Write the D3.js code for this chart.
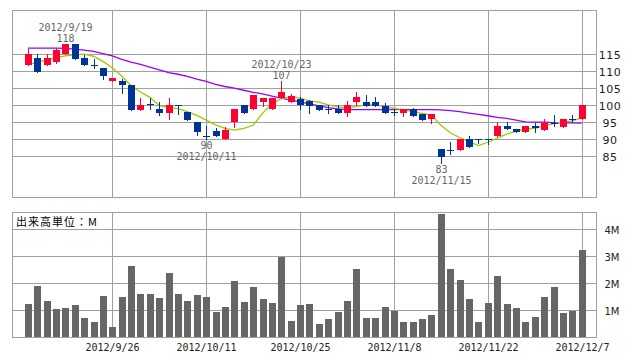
<!DOCTYPE html>
<html><head><meta charset="utf-8">
<script src="https://cdn.jsdelivr.net/npm/d3@7"></script>
<style>body{margin:0;background:#fff}svg{display:block}</style>
</head><body><svg id="c" width="638" height="362"></svg>
<script>
const dates=["9/12","9/13","9/14","9/18","9/19","9/20","9/21","9/24","9/25","9/26","9/27","9/28","10/1","10/2","10/3","10/4","10/5","10/9","10/10","10/11","10/12","10/15","10/16","10/17","10/18","10/19","10/22","10/23","10/24","10/25","10/26","10/29","10/30","10/31","11/1","11/2","11/5","11/6","11/7","11/8","11/9","11/12","11/13","11/14","11/15","11/16","11/19","11/20","11/21","11/22","11/26","11/27","11/28","11/29","11/30","12/3","12/4","12/5","12/6","12/7"];
const open=[111.7,113.7,111.6,112.7,114.9,118.0,113.7,111.6,110.8,106.9,107.1,105.9,98.6,100.2,98.7,97.7,99.9,98.0,95.1,90.8,92.2,90.0,94.9,100.0,98.7,100.7,98.7,102.0,100.8,101.8,101.0,100.0,98.7,98.7,97.7,100.7,100.8,100.8,99.7,97.8,97.6,98.8,97.3,95.8,87.1,86.6,86.8,89.9,89.9,89.9,90.7,93.8,92.9,91.9,93.8,92.6,94.8,93.6,95.8,95.8];
const high=[116.3,115.0,115.0,116.7,118.0,118.0,114.7,113.4,110.8,107.9,107.7,105.9,102.0,102.0,100.7,102.0,99.9,98.0,95.1,93.8,93.3,93.6,98.8,100.0,102.9,102.0,102.0,107.0,103.2,102.2,101.5,100.0,100.0,100.0,101.0,103.7,102.9,102.2,100.5,98.7,98.8,99.0,97.3,97.3,87.1,89.2,89.9,90.9,89.9,89.9,94.9,94.9,92.9,93.8,94.6,95.8,97.1,95.9,97.1,100.0];
const low=[111.6,109.8,111.6,112.3,114.9,113.5,111.6,110.8,107.6,106.9,103.6,98.6,98.6,98.7,97.0,95.8,97.4,95.6,91.2,90.0,90.7,90.0,93.6,97.7,98.7,99.7,98.7,102.0,100.8,98.7,97.7,98.5,97.6,97.7,96.8,100.0,99.8,99.8,97.7,97.0,96.8,96.8,95.6,94.6,83.0,85.6,86.8,87.7,88.7,88.4,90.7,92.8,92.0,91.9,91.9,92.6,93.8,93.6,94.9,95.8];
const close=[115.0,109.8,113.7,116.0,118.0,113.5,111.6,111.6,108.5,107.9,105.7,98.6,99.9,100.2,97.7,100.0,99.9,95.6,91.9,90.8,90.7,92.6,98.8,97.7,102.9,102.0,102.0,103.7,102.6,100.0,99.8,98.5,98.7,97.7,100.0,102.2,99.8,99.8,97.7,97.8,98.8,96.8,95.6,97.3,84.8,86.6,89.9,87.7,89.9,89.9,93.9,92.8,92.0,93.8,93.1,94.8,94.8,95.9,95.8,100.0];
const maShort=[111.8,112.5,113.2,113.9,114.4,114.7,114.9,114.3,112.8,110.9,108.5,105.6,103.8,102.2,99.8,99.3,98.9,98.0,96.9,95.5,94.1,93.1,92.6,93.1,94.0,97.5,100.3,101.8,102.5,102.0,101.2,100.8,100.0,99.4,99.2,99.5,100.0,100.0,99.5,99.0,98.5,98.0,97.5,97.0,94.0,91.8,90.4,89.2,88.0,89.0,90.2,91.4,92.2,92.9,93.1,93.8,94.5,94.9,95.3,96.2];
const maLong=[116.7,116.7,116.7,116.7,116.6,116.4,116.1,115.7,115.1,114.4,113.4,112.6,111.9,111.1,110.3,109.5,109.0,108.4,107.6,106.9,106.0,105.4,104.9,104.3,103.7,103.2,102.6,102.0,101.4,100.9,100.3,99.7,99.2,98.8,98.6,98.6,98.6,98.6,98.6,98.6,98.6,98.6,98.6,98.6,98.5,98.3,98.0,97.6,97.2,96.8,96.3,96.0,95.5,95.0,94.9,94.9,94.8,94.7,94.7,94.6];
const volume=[1.22,1.89,1.33,1.04,1.07,1.19,0.70,0.56,1.52,0.37,1.48,2.63,1.59,1.59,1.44,2.37,1.59,1.33,1.56,1.48,0.93,1.11,2.07,1.30,1.85,1.41,1.26,2.96,0.59,1.19,1.22,0.48,0.67,0.93,1.33,2.52,0.70,0.70,1.11,0.96,0.56,0.56,0.67,0.81,4.56,2.52,2.11,1.41,0.56,1.26,2.26,1.22,1.07,0.56,0.74,1.48,1.85,0.89,0.96,3.22];
const dateTicks=["9/26","10/11","10/25","11/8","11/22","12/7"];
const priceTicks=[85,90,95,100,105,110,115];
const volTicks=[1,2,3,4];
const notes=[{date:"9/19",kind:"high",label:"118"},{date:"10/11",kind:"low",label:"90"},{date:"10/23",kind:"high",label:"107"},{date:"11/15",kind:"low",label:"83"}];
const year="2012";

const svg=d3.select("#c");
const L=12,R=596,PT=10,PB=197,VT=212,VB=337;
const x=d3.scaleLinear().domain([-1.683,60.523]).range([L,R]);
const y=d3.scaleLinear().domain([72.9,127.9]).range([PB,PT]);
const yv=d3.scaleLinear().domain([0,4.63]).range([VB,VT]);
const px=i=>Math.round(x(i));
const GRID="#a0a0a0",RED="#ff0033",BLUE="#003399";
const idx=d=>dates.indexOf(d);

// grids
const g=svg.append("g").attr("shape-rendering","crispEdges");
priceTicks.forEach(p=>{const yy=Math.round(y(p))+.5;
  g.append("line").attr("x1",L).attr("x2",R).attr("y1",yy).attr("y2",yy).attr("stroke",GRID);
  svg.append("text").attr("x",610).attr("y",yy+4).attr("text-anchor","middle").attr("font-family","DejaVu Sans").attr("font-size",11).attr("letter-spacing",0.5).attr("fill","#222").text(p);
});
volTicks.forEach(v=>{const yy=Math.round(yv(v))+.5;
  g.append("line").attr("x1",L).attr("x2",R).attr("y1",yy).attr("y2",yy).attr("stroke",GRID);
  svg.append("text").attr("x",612).attr("y",yy+4).attr("text-anchor","middle").attr("font-family","DejaVu Sans").attr("font-size",10).attr("fill","#222").text(v+"M");
});
dateTicks.forEach(d=>{const xx=px(idx(d))+.5;
  g.append("line").attr("x1",xx).attr("x2",xx).attr("y1",PT).attr("y2",PB).attr("stroke",GRID);
  g.append("line").attr("x1",xx).attr("x2",xx).attr("y1",VT).attr("y2",VB).attr("stroke",GRID);
  svg.append("text").attr("x",xx).attr("y",351).attr("text-anchor","middle").attr("font-family","DejaVu Sans Mono").attr("font-size",10).attr("fill","#222").text(year+"/"+d);
});
g.append("rect").attr("x",L+.5).attr("y",PT+.5).attr("width",R-L).attr("height",PB-PT).attr("fill","none").attr("stroke",GRID);
g.append("rect").attr("x",L+.5).attr("y",VT+.5).attr("width",R-L).attr("height",VB-VT).attr("fill","none").attr("stroke",GRID);

svg.append("text").attr("x",16).attr("y",226).attr("font-family","Noto Sans CJK JP").attr("font-size",11).attr("letter-spacing",1).attr("fill","#000").text("出来高単位：M");

// volume bars
svg.append("g").attr("shape-rendering","crispEdges").selectAll("rect").data(volume).join("rect")
  .attr("x",(d,i)=>px(i)-3).attr("width",7)
  .attr("y",d=>Math.round(yv(d))).attr("height",d=>VB-Math.round(yv(d)))
  .attr("fill","#666666");

// moving averages
const line=d3.line().x((d,i)=>x(i)).y(d=>y(d));
svg.append("path").attr("d",line(maLong)).attr("fill","none").attr("stroke","#9900ff").attr("stroke-width",1.3);
svg.append("path").attr("d",line(maShort)).attr("fill","none").attr("stroke","#99cc00").attr("stroke-width",1.3);

// candles
const cg=svg.append("g").attr("shape-rendering","crispEdges");
dates.forEach((d,i)=>{
  const o=open[i],c=close[i],h=high[i],l=low[i];
  const col=c>o?RED:BLUE;
  const cx=px(i);
  cg.append("line").attr("x1",cx+.5).attr("x2",cx+.5).attr("y1",Math.round(y(h))).attr("y2",Math.round(y(l))+1).attr("stroke",col);
  if(o===c){
    const yy=Math.round(y(o))+.5;
    cg.append("line").attr("x1",cx-3).attr("x2",cx+4).attr("y1",yy).attr("y2",yy).attr("stroke",col);
  } else {
    const t=Math.round(y(Math.max(o,c))),b=Math.round(y(Math.min(o,c)));
    cg.append("rect").attr("x",cx-3).attr("width",7).attr("y",t).attr("height",Math.max(1,b-t)).attr("fill",col);
  }
});

// annotations
notes.forEach(n=>{const i=idx(n.date),cx=px(i)+.5;
  const t=svg.append("g").attr("font-family","DejaVu Sans Mono").attr("font-size",10).attr("fill","#666").attr("text-anchor","middle");
  if(n.kind==="high"){const b=y(high[i])-2;
    t.append("text").attr("x",cx).attr("y",b).text(n.label);
    t.append("text").attr("x",cx).attr("y",b-11).text(year+"/"+n.date);
  } else {const b=y(low[i])+10;
    t.append("text").attr("x",cx).attr("y",b).text(n.label);
    t.append("text").attr("x",cx).attr("y",b+11).text(year+"/"+n.date);
  }
});
</script></body></html>
